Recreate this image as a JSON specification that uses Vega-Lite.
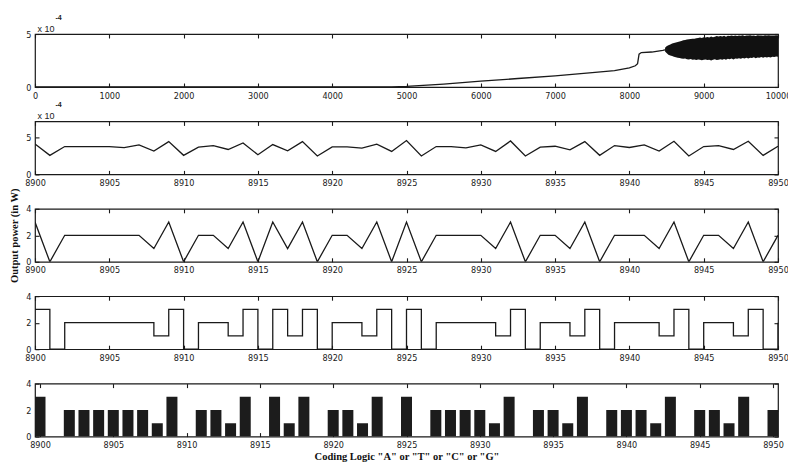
{
  "$schema": "https://vega.github.io/schema/vega-lite/v6.json",
  "background": "white",
  "padding": {"left": 9, "top": 12, "right": 4, "bottom": 2},
  "bounds": "flush",
  "spacing": 34.4,
  "datasets": {
    "trend": [
      {"t": 0, "p": 0}, {"t": 4700, "p": 0}, {"t": 4800, "p": 0.01}, {"t": 5000, "p": 0.06},
      {"t": 5500, "p": 0.28}, {"t": 6000, "p": 0.55}, {"t": 6500, "p": 0.8}, {"t": 7000, "p": 1.05},
      {"t": 7500, "p": 1.35}, {"t": 7800, "p": 1.55}, {"t": 8000, "p": 1.8}, {"t": 8080, "p": 2.0},
      {"t": 8110, "p": 2.2}, {"t": 8130, "p": 3.1}, {"t": 8160, "p": 3.25}, {"t": 8300, "p": 3.3},
      {"t": 8450, "p": 3.45}, {"t": 8510, "p": 3.55}
    ],
    "band": [
      {"t": 8480, "lo": 3.35, "hi": 3.7}, {"t": 8500, "lo": 3.2, "hi": 3.85}, {"t": 8525, "lo": 3.05, "hi": 3.95},
      {"t": 8550, "lo": 2.98, "hi": 4.02}, {"t": 8575, "lo": 2.92, "hi": 4.1}, {"t": 8600, "lo": 2.86, "hi": 4.15},
      {"t": 8625, "lo": 2.8, "hi": 4.2}, {"t": 8650, "lo": 2.76, "hi": 4.24}, {"t": 8675, "lo": 2.74, "hi": 4.3},
      {"t": 8700, "lo": 2.7, "hi": 4.34}, {"t": 8725, "lo": 2.66, "hi": 4.4}, {"t": 8750, "lo": 2.68, "hi": 4.44},
      {"t": 8775, "lo": 2.62, "hi": 4.47}, {"t": 8800, "lo": 2.6, "hi": 4.5}, {"t": 8825, "lo": 2.64, "hi": 4.52},
      {"t": 8850, "lo": 2.58, "hi": 4.56}, {"t": 8875, "lo": 2.6, "hi": 4.55}, {"t": 8900, "lo": 2.54, "hi": 4.6},
      {"t": 8925, "lo": 2.6, "hi": 4.63}, {"t": 8950, "lo": 2.56, "hi": 4.66}, {"t": 8975, "lo": 2.52, "hi": 4.62},
      {"t": 9000, "lo": 2.56, "hi": 4.7}, {"t": 9025, "lo": 2.6, "hi": 4.66}, {"t": 9050, "lo": 2.54, "hi": 4.72},
      {"t": 9075, "lo": 2.58, "hi": 4.68}, {"t": 9100, "lo": 2.5, "hi": 4.76}, {"t": 9125, "lo": 2.58, "hi": 4.7},
      {"t": 9150, "lo": 2.62, "hi": 4.74}, {"t": 9175, "lo": 2.55, "hi": 4.8}, {"t": 9200, "lo": 2.58, "hi": 4.76},
      {"t": 9225, "lo": 2.62, "hi": 4.82}, {"t": 9250, "lo": 2.57, "hi": 4.77}, {"t": 9275, "lo": 2.63, "hi": 4.83},
      {"t": 9300, "lo": 2.58, "hi": 4.75}, {"t": 9325, "lo": 2.66, "hi": 4.84}, {"t": 9350, "lo": 2.62, "hi": 4.8},
      {"t": 9375, "lo": 2.68, "hi": 4.86}, {"t": 9400, "lo": 2.6, "hi": 4.82}, {"t": 9425, "lo": 2.7, "hi": 4.87},
      {"t": 9450, "lo": 2.66, "hi": 4.8}, {"t": 9475, "lo": 2.72, "hi": 4.86}, {"t": 9500, "lo": 2.66, "hi": 4.84},
      {"t": 9525, "lo": 2.73, "hi": 4.88}, {"t": 9550, "lo": 2.7, "hi": 4.82}, {"t": 9575, "lo": 2.76, "hi": 4.87},
      {"t": 9600, "lo": 2.69, "hi": 4.85}, {"t": 9625, "lo": 2.77, "hi": 4.88}, {"t": 9650, "lo": 2.73, "hi": 4.84},
      {"t": 9675, "lo": 2.8, "hi": 4.87}, {"t": 9700, "lo": 2.72, "hi": 4.82}, {"t": 9725, "lo": 2.79, "hi": 4.88},
      {"t": 9750, "lo": 2.76, "hi": 4.85}, {"t": 9775, "lo": 2.82, "hi": 4.87}, {"t": 9800, "lo": 2.75, "hi": 4.84},
      {"t": 9825, "lo": 2.83, "hi": 4.88}, {"t": 9850, "lo": 2.79, "hi": 4.86}, {"t": 9875, "lo": 2.84, "hi": 4.88},
      {"t": 9900, "lo": 2.78, "hi": 4.85}, {"t": 9925, "lo": 2.86, "hi": 4.87}, {"t": 9950, "lo": 2.83, "hi": 4.86},
      {"t": 9975, "lo": 2.88, "hi": 4.88}, {"t": 10000, "lo": 2.85, "hi": 4.85}
    ],
    "seq": [
      {"t": 8900, "code": 3, "power": 4.1}, {"t": 8901, "code": 0, "power": 2.57}, {"t": 8902, "code": 2, "power": 3.76},
      {"t": 8903, "code": 2, "power": 3.76}, {"t": 8904, "code": 2, "power": 3.76}, {"t": 8905, "code": 2, "power": 3.76},
      {"t": 8906, "code": 2, "power": 3.6}, {"t": 8907, "code": 2, "power": 3.98}, {"t": 8908, "code": 1, "power": 3.14},
      {"t": 8909, "code": 3, "power": 4.42}, {"t": 8910, "code": 0, "power": 2.57}, {"t": 8911, "code": 2, "power": 3.67},
      {"t": 8912, "code": 2, "power": 3.89}, {"t": 8913, "code": 1, "power": 3.36}, {"t": 8914, "code": 3, "power": 4.25},
      {"t": 8915, "code": 0, "power": 2.65}, {"t": 8916, "code": 3, "power": 4.03}, {"t": 8917, "code": 1, "power": 3.19},
      {"t": 8918, "code": 3, "power": 4.42}, {"t": 8919, "code": 0, "power": 2.48}, {"t": 8920, "code": 2, "power": 3.72},
      {"t": 8921, "code": 2, "power": 3.72}, {"t": 8922, "code": 1, "power": 3.54}, {"t": 8923, "code": 3, "power": 4.07},
      {"t": 8924, "code": 0, "power": 3.1}, {"t": 8925, "code": 3, "power": 4.56}, {"t": 8926, "code": 0, "power": 2.48},
      {"t": 8927, "code": 2, "power": 3.76}, {"t": 8928, "code": 2, "power": 3.76}, {"t": 8929, "code": 2, "power": 3.58},
      {"t": 8930, "code": 2, "power": 3.98}, {"t": 8931, "code": 1, "power": 3.1}, {"t": 8932, "code": 3, "power": 4.51},
      {"t": 8933, "code": 0, "power": 2.48}, {"t": 8934, "code": 2, "power": 3.67}, {"t": 8935, "code": 2, "power": 3.8},
      {"t": 8936, "code": 1, "power": 3.32}, {"t": 8937, "code": 3, "power": 4.42}, {"t": 8938, "code": 0, "power": 2.57},
      {"t": 8939, "code": 2, "power": 3.89}, {"t": 8940, "code": 2, "power": 3.63}, {"t": 8941, "code": 2, "power": 3.98},
      {"t": 8942, "code": 1, "power": 3.14}, {"t": 8943, "code": 3, "power": 4.47}, {"t": 8944, "code": 0, "power": 2.48},
      {"t": 8945, "code": 2, "power": 3.76}, {"t": 8946, "code": 2, "power": 3.89}, {"t": 8947, "code": 1, "power": 3.36},
      {"t": 8948, "code": 3, "power": 4.47}, {"t": 8949, "code": 0, "power": 2.57}, {"t": 8950, "code": 2, "power": 3.8}
    ]
  },
  "vconcat": [
    {
      "width": 743, "height": 53,
      "resolve": {"axis": {"x": "independent", "y": "independent"}},
      "layer": [
        {
          "data": {"name": "band"},
          "mark": {"type": "area", "color": "#111", "clip": true},
          "encoding": {
            "x": {"field": "t", "type": "quantitative", "scale": {"domain": [0, 10000], "nice": false},
                  "axis": {"values": [0, 1000, 2000, 3000, 4000, 5000, 6000, 7000, 8000, 9000, 10000], "format": "d", "title": null}},
            "y": {"field": "lo", "type": "quantitative", "scale": {"domain": [0, 5], "nice": false},
                  "axis": {"values": [0, 5], "format": "d", "title": "-4", "titleAngle": 0, "titleX": 16, "titleY": -15, "titleAlign": "left", "titleBaseline": "alphabetic", "titleFont": "Liberation Sans", "titleFontSize": 7, "titleFontWeight": "bold", "titleColor": "#222"}},
            "y2": {"field": "hi"}
          }
        },
        {
          "data": {"name": "trend"},
          "mark": {"type": "line", "clip": true},
          "encoding": {
            "x": {"field": "t", "type": "quantitative", "axis": {"orient": "top", "labels": false, "labelPadding": 0, "values": [0, 1000, 2000, 3000, 4000, 5000, 6000, 7000, 8000, 9000, 10000], "title": "x 10", "titleX": 2, "titleY": -7, "titleAlign": "left", "titleBaseline": "alphabetic", "titleFont": "Liberation Sans", "titleFontSize": 9, "titleFontWeight": "normal", "titleColor": "#222"}},
            "y": {"field": "p", "type": "quantitative", "axis": {"orient": "right", "labels": false, "labelPadding": 0, "values": [0, 5], "title": null}}
          }
        }
      ]
    },
    {
      "width": 743, "height": 53,
      "data": {"name": "seq"},
      "resolve": {"axis": {"x": "independent", "y": "independent"}},
      "layer": [
        {
          "mark": {"type": "line", "clip": true},
          "encoding": {
            "x": {"field": "t", "type": "quantitative", "scale": {"domain": [8900, 8950], "nice": false},
                  "axis": {"values": [8900, 8905, 8910, 8915, 8920, 8925, 8930, 8935, 8940, 8945, 8950], "format": "d", "title": null}},
            "y": {"field": "power", "type": "quantitative", "scale": {"domain": [0, 7.15], "nice": false},
                  "axis": {"values": [0, 5], "format": "d", "title": "-4", "titleAngle": 0, "titleX": 16, "titleY": -15, "titleAlign": "left", "titleBaseline": "alphabetic", "titleFont": "Liberation Sans", "titleFontSize": 7, "titleFontWeight": "bold", "titleColor": "#222"}}
          }
        },
        {
          "mark": {"type": "point", "opacity": 0},
          "encoding": {
            "x": {"field": "t", "type": "quantitative", "axis": {"orient": "top", "labels": false, "labelPadding": 0, "values": [8900, 8905, 8910, 8915, 8920, 8925, 8930, 8935, 8940, 8945, 8950], "title": "x 10", "titleX": 2, "titleY": -7, "titleAlign": "left", "titleBaseline": "alphabetic", "titleFont": "Liberation Sans", "titleFontSize": 9, "titleFontWeight": "normal", "titleColor": "#222"}},
            "y": {"field": "power", "type": "quantitative", "axis": {"orient": "right", "labels": false, "labelPadding": 0, "values": [0, 5], "title": null}}
          }
        }
      ]
    },
    {
      "width": 743, "height": 53,
      "data": {"name": "seq"},
      "resolve": {"axis": {"x": "independent", "y": "independent"}},
      "layer": [
        {
          "mark": {"type": "line", "clip": true},
          "encoding": {
            "x": {"field": "t", "type": "quantitative", "scale": {"domain": [8900, 8950], "nice": false},
                  "axis": {"values": [8900, 8905, 8910, 8915, 8920, 8925, 8930, 8935, 8940, 8945, 8950], "format": "d", "title": null}},
            "y": {"field": "code", "type": "quantitative", "scale": {"domain": [0, 4], "nice": false},
                  "axis": {"values": [0, 2, 4], "format": "d", "title": "Output power (in W)", "titleFont": "Liberation Serif", "titleFontWeight": "bold", "titleFontSize": 10.5, "titleColor": "#111", "titlePadding": 6}}
          }
        },
        {
          "mark": {"type": "point", "opacity": 0},
          "encoding": {
            "x": {"field": "t", "type": "quantitative", "axis": {"orient": "top", "labels": false, "labelPadding": 0, "values": [8900, 8905, 8910, 8915, 8920, 8925, 8930, 8935, 8940, 8945, 8950], "title": null}},
            "y": {"field": "code", "type": "quantitative", "axis": {"orient": "right", "labels": false, "labelPadding": 0, "values": [0, 2, 4], "title": null}}
          }
        }
      ]
    },
    {
      "width": 743, "height": 53,
      "data": {"name": "seq"},
      "resolve": {"axis": {"x": "independent", "y": "independent"}},
      "layer": [
        {
          "mark": {"type": "line", "interpolate": "step-after", "clip": true},
          "encoding": {
            "x": {"field": "t", "type": "quantitative", "scale": {"domain": [8900, 8950], "nice": false},
                  "axis": {"values": [8900, 8905, 8910, 8915, 8920, 8925, 8930, 8935, 8940, 8945, 8950], "format": "d", "title": null}},
            "y": {"field": "code", "type": "quantitative", "scale": {"domain": [0, 4], "nice": false},
                  "axis": {"values": [0, 2, 4], "format": "d", "title": null}}
          }
        },
        {
          "mark": {"type": "point", "opacity": 0},
          "encoding": {
            "x": {"field": "t", "type": "quantitative", "axis": {"orient": "top", "labels": false, "labelPadding": 0, "values": [8900, 8905, 8910, 8915, 8920, 8925, 8930, 8935, 8940, 8945, 8950], "title": null}},
            "y": {"field": "code", "type": "quantitative", "axis": {"orient": "right", "labels": false, "labelPadding": 0, "values": [0, 2, 4], "title": null}}
          }
        }
      ]
    },
    {
      "width": 743, "height": 53,
      "data": {"name": "seq"},
      "resolve": {"axis": {"x": "independent", "y": "independent"}},
      "layer": [
        {
          "mark": {"type": "bar", "width": 11, "color": "#1c1c1c", "clip": true},
          "encoding": {
            "x": {"field": "t", "type": "quantitative", "scale": {"domain": [8900, 8950], "nice": false},
                  "axis": {"values": [8900, 8905, 8910, 8915, 8920, 8925, 8930, 8935, 8940, 8945, 8950], "format": "d",
                           "title": "Coding Logic \"A\" or \"T\" or \"C\" or \"G\"", "titleFont": "Liberation Serif", "titleFontWeight": "bold", "titleFontSize": 10.5, "titleColor": "#111", "titlePadding": 2}},
            "y": {"field": "code", "type": "quantitative", "scale": {"domain": [0, 4], "nice": false},
                  "axis": {"values": [0, 2, 4], "format": "d", "title": null}}
          }
        },
        {
          "mark": {"type": "point", "opacity": 0},
          "encoding": {
            "x": {"field": "t", "type": "quantitative", "axis": {"orient": "top", "labels": false, "labelPadding": 0, "values": [8900, 8905, 8910, 8915, 8920, 8925, 8930, 8935, 8940, 8945, 8950], "title": null}},
            "y": {"field": "code", "type": "quantitative", "axis": {"orient": "right", "labels": false, "labelPadding": 0, "values": [0, 2, 4], "title": null}}
          }
        }
      ]
    }
  ],
  "config": {
    "view": {"stroke": "#1a1a1a", "strokeWidth": 1.2},
    "axis": {
      "grid": false, "domain": false, "tickColor": "#1a1a1a", "tickSize": 4, "offset": -4, "tickWidth": 1.1,
      "labelFont": "DejaVu Sans Condensed, Liberation Sans Narrow, sans-serif", "labelFontSize": 9, "labelColor": "#1a1a1a",
      "labelPadding": 4, "labelFlush": false, "labelOverlap": false
    },
    "line": {"color": "#1a1a1a", "strokeWidth": 1.3}
  }
}
